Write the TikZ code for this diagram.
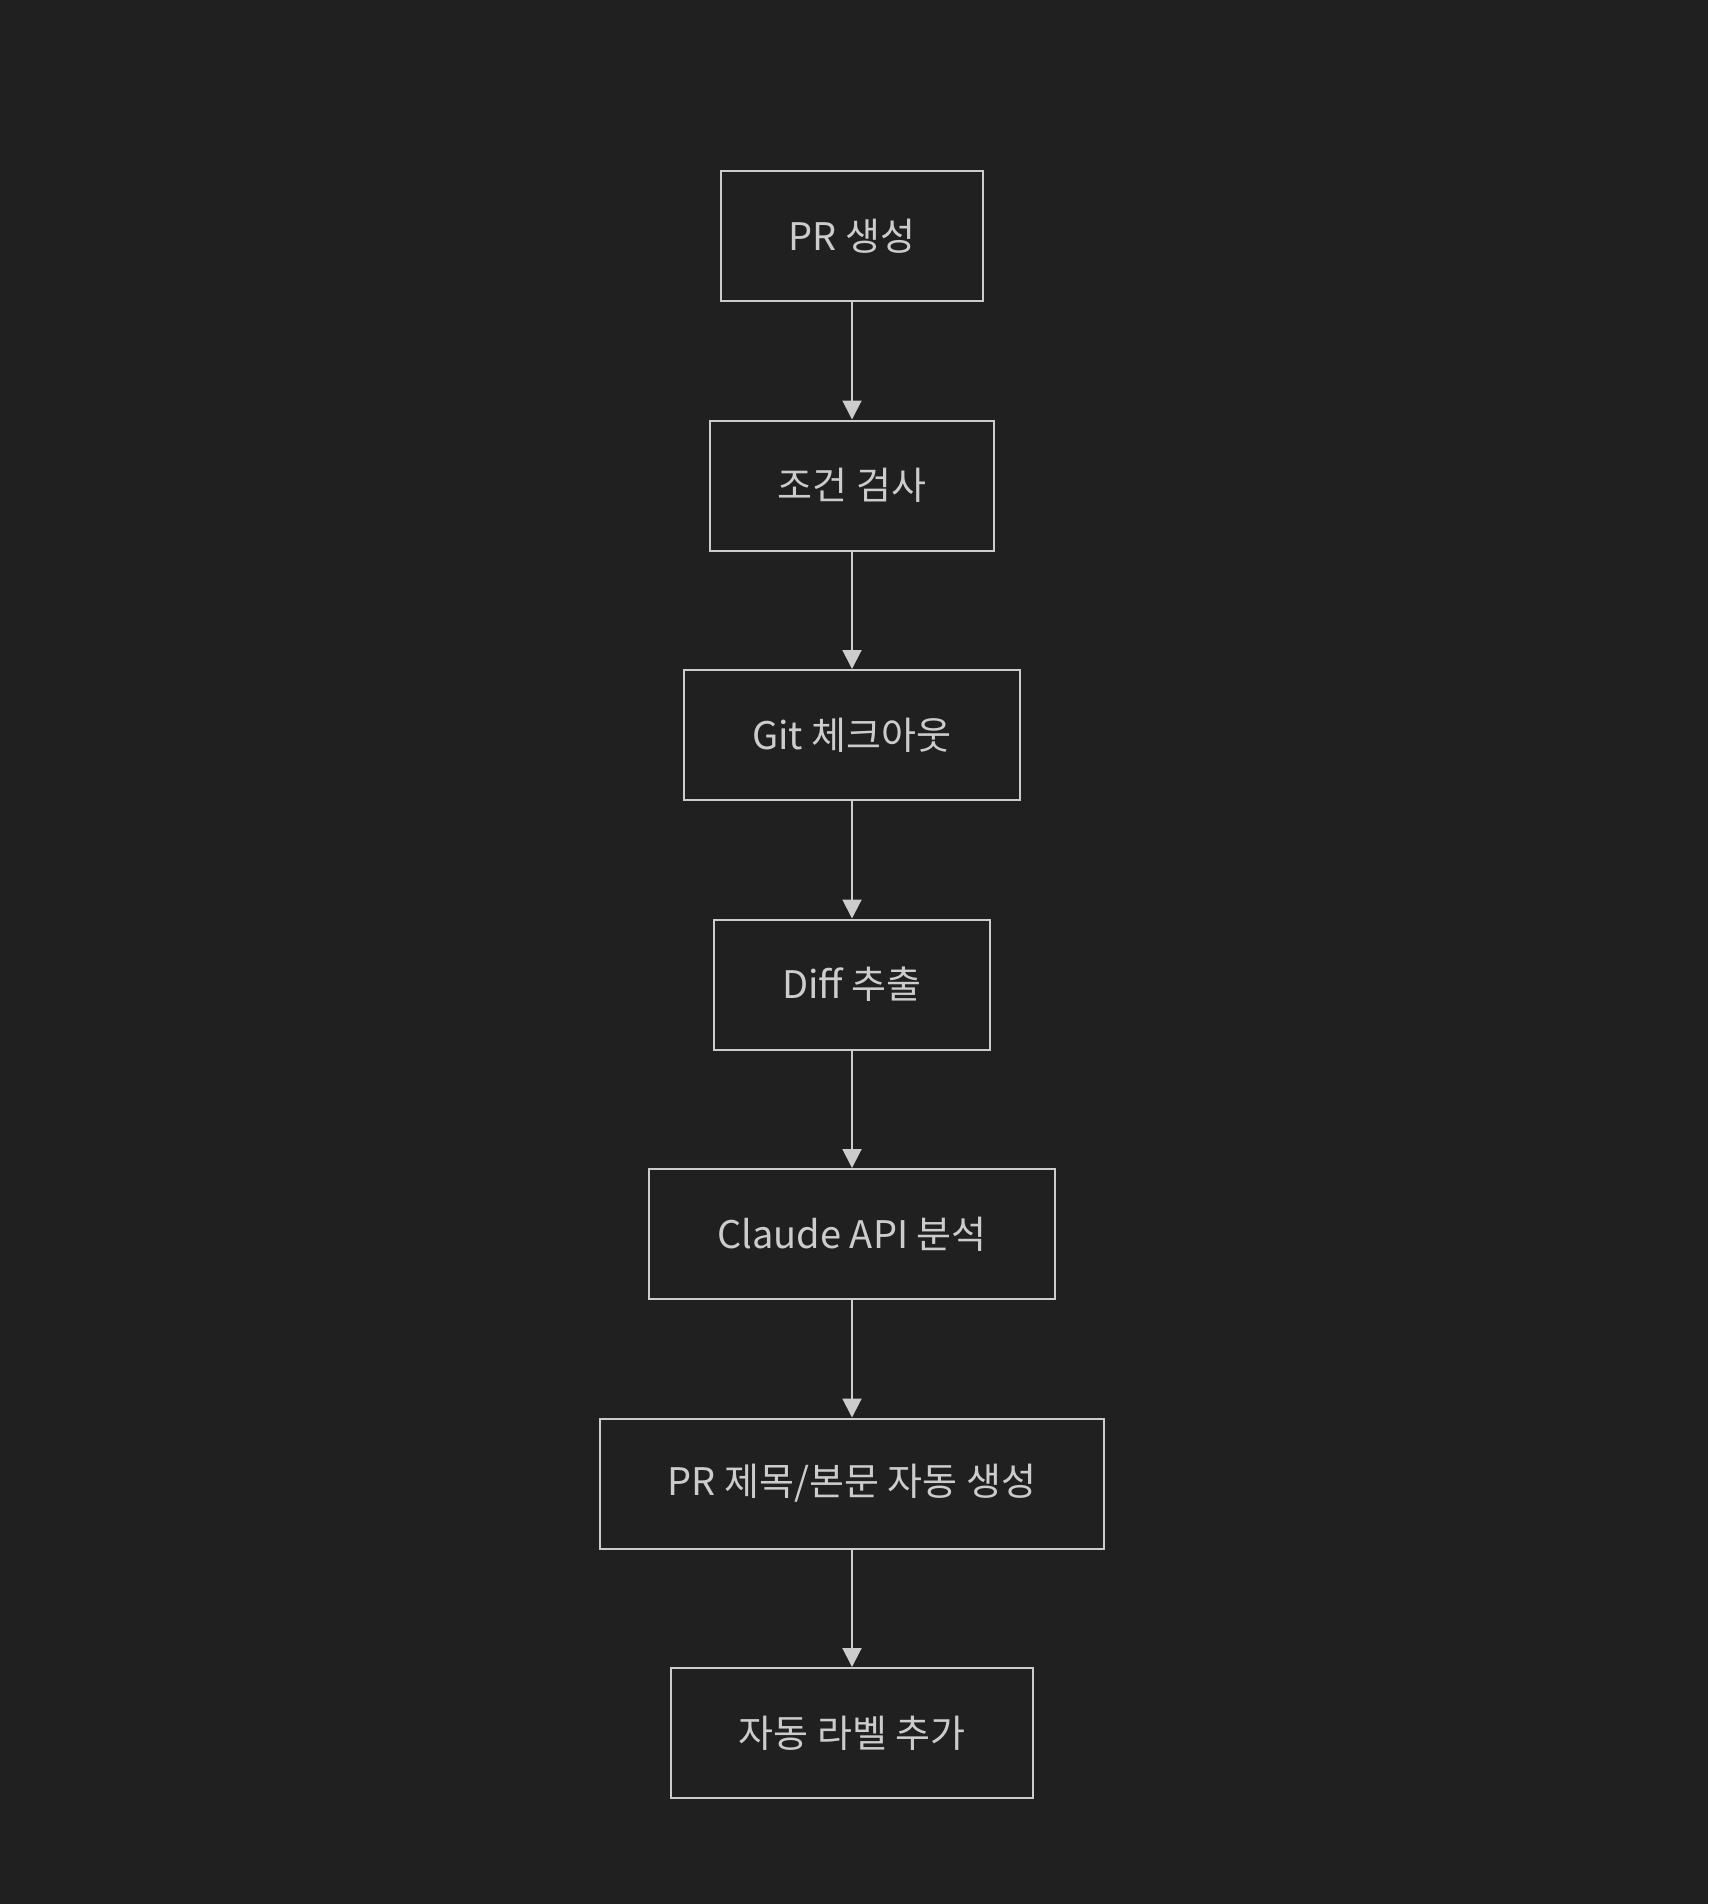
\documentclass[tikz,border=0pt]{standalone}
\usepackage{fontspec}
\setmainfont{Noto Sans CJK KR}
\usetikzlibrary{arrows.meta}
\definecolor{bgdark}{HTML}{202020}
\definecolor{linegray}{HTML}{CCCCCC}
\tikzset{
  stepbox/.style={draw=linegray, line width=1pt, fill=bgdark, text=linegray,
    minimum height=65pt, inner xsep=34pt, font=\fontsize{19}{23}\selectfont},
}
\begin{document}
\begin{tikzpicture}[x=0.5pt,y=-0.5pt]
\fill[bgdark] (0,0) rectangle (1708,1904);
\useasboundingbox (0,0) rectangle (1708,1904);

\node[stepbox] (create) at (852,236) {PR 생성};
\node[stepbox] (check) at (852,485.5) {조건 검사};
\node[stepbox] (checkout) at (852,735) {Git 체크아웃};
\node[stepbox] (diff) at (852,984.5) {Diff 추출};
\node[stepbox] (claude) at (852,1234) {Claude API 분석};
\node[stepbox] (body) at (852,1483.5) {PR 제목/본문 자동 생성};
\node[stepbox] (label) at (852,1733) {자동 라벨 추가};

\path[draw=linegray,line width=1pt,-{Triangle[width=9.5pt,length=9.5pt]}] (create) -- (check);
\path[draw=linegray,line width=1pt,-{Triangle[width=9.5pt,length=9.5pt]}] (check) -- (checkout);
\path[draw=linegray,line width=1pt,-{Triangle[width=9.5pt,length=9.5pt]}] (checkout) -- (diff);
\path[draw=linegray,line width=1pt,-{Triangle[width=9.5pt,length=9.5pt]}] (diff) -- (claude);
\path[draw=linegray,line width=1pt,-{Triangle[width=9.5pt,length=9.5pt]}] (claude) -- (body);
\path[draw=linegray,line width=1pt,-{Triangle[width=9.5pt,length=9.5pt]}] (body) -- (label);
\end{tikzpicture}
\end{document}
